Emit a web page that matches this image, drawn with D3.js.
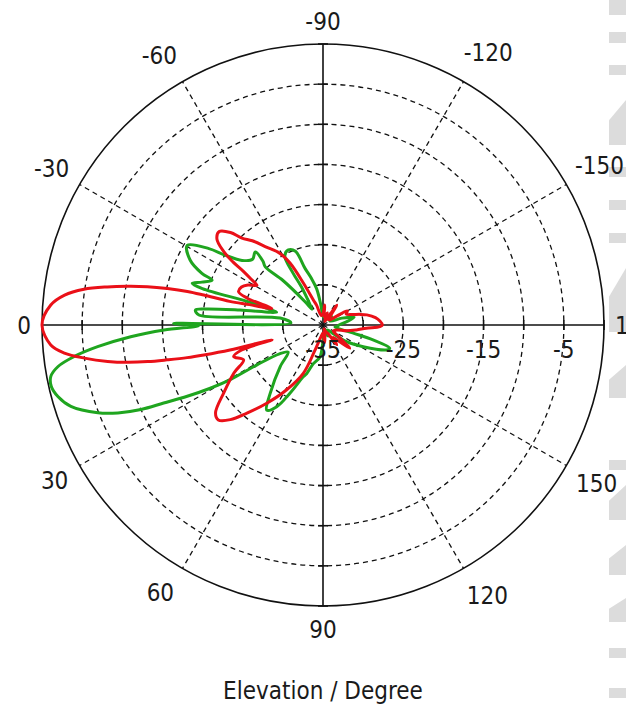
<!DOCTYPE html>
<html lang="en">
<head>
<meta charset="utf-8">
<title>Elevation pattern</title>
<style type="text/css">
body {
  margin: 0;
  background: #fff;
}
svg text {
  font-family: "DejaVu Sans Condensed", "DejaVu Sans", sans-serif;
  font-stretch: condensed;
  font-size: 24px;
  fill: #1a1a1a;
}
.ring {
  fill: none;
  stroke: #111;
  stroke-width: 1.3px;
  stroke-dasharray: 5,4;
}
.spoke {
  stroke: #111;
  stroke-width: 1.3px;
  stroke-dasharray: 5,4;
}
.axis line, .outer {
  stroke: #111;
  stroke-width: 1.6px;
  fill: none;
}
.trace {
  fill: none;
  stroke-width: 3px;
  stroke-linejoin: round;
}
</style>
</head>
<body>
<svg width="626" height="717"></svg>
<script src="https://d3js.org/d3.v7.min.js"></script>
<script>
// angle ticks (degrees), dB rings, radial tick labels
var angleTicks = [-150, -120, -90, -60, -30, 0, 30, 60, 90, 120, 150, 180];
var spokeAngles = [-150, -120, -60, -30, 30, 60, 120, 150];
var ringDb = [-30, -25, -20, -15, -10, -5, 0];
var radialLabels = [-35, -25, -15, -5];

// red trace: angle (deg) / level (dB)
var redAngle = [-180, -176, -172, -167, -164, -160, -155, -150, -146, -140, -130, -125, -120, -115, -110, -100, -95, -90, -80,
  -72, -69, -65, -62, -59, -54, -50, -47, -45, -42, -39, -36.5, -35, -34, -32.5, -31, -28, -25, -21.5,
  -19.5, -17.9, -15.5, -14.2, -14.1, -13.9, -13.2, -12.3, -11.2, -10, -8.5, -6.6, -4.2, 0,
  4.2, 6.2, 7.9, 9.6, 10.8, 11.8, 12.6, 13.5, 14.1, 15.0, 16.3, 17.1, 19.5, 23.7, 28.3, 34.4, 39.3,
  42.2, 45.6, 49.2, 54.3, 60.8, 67.8, 72, 80, 90, 95, 100, 105, 110, 120, 125, 130, 135, 139, 143, 150, 160,
  166, 171.6, 175.7, 178.3];
var redDb = [-27.6, -27.9, -28.4, -29.4, -30.2, -31.2, -31.8, -31.5, -33.4, -34.0, -33.6, -32.0, -34.3, -34.5, -33.4, -34.0, -32.5, -33.6, -33.8,
  -32.4, -31.7, -29.3, -26.3, -24.6, -23.0, -21.3, -20.2, -18.7, -17.6, -18.0, -19.6, -21.3, -23.0, -24.4, -25.4, -24.4, -23.8, -23.7,
  -25.0, -28.3, -25.5, -23.0, -19.7, -17.6, -15.1, -12.6, -10.2, -7.7, -4.9, -2.6, -1.0, 0,
  -1.0, -2.6, -5.0, -7.8, -10.2, -12.7, -15.1, -17.6, -19.7, -23.0, -28.4, -24.4, -23.2, -24.2, -22.4, -20.0, -17.7,
  -17.4, -18.5, -20.5, -23.0, -25.8, -28.5, -31.5, -33.5, -34.0, -32.8, -33.7, -34.5, -34.2, -33.8, -32.0, -33.0, -32.0, -30.6, -32.5, -33.5, -33.2,
  -32.0, -30.8, -29.6, -27.9];

// green trace: angle (deg) / level (dB)
var greenAngle = [-180, -172, -166, -160, -150, -135, -120, -105, -92, -84, -80, -76, -72.4, -69.5, -65.2,
  -61, -60, -60.5, -58, -55, -52.3, -48, -45.2, -46.7, -47.1, -43, -38.6, -35.5, -33.8, -30.4, -26, -23.1,
  -22, -19.5, -17.7, -16.8, -17.3, -16.5, -15.5, -10.2, -7.7, -6.7, -4.6, -9.2, -3.5, -0.6, 0.3,
  1.8, 3.5, 5.5, 7.2, 8.9, 10.7, 12.7, 15.1, 17.9, 21.3, 23.2, 24.9, 26.1, 27.7, 29.3, 30.5, 31.1, 33.5,
  37.9, 44.1, 52.2, 56.5, 60.5, 64.2, 69.1, 71.4, 75.8, 84.6, 90, 100, 115, 130, 140, 144.8, 151.7,
  158.6, 160.8, 163.4, 165, 170, 175];
var greenDb = [-33.0, -32.0, -31.0, -32.5, -34.0, -33.5, -34.2, -33.6, -34.0, -32.5, -30.4, -29.0, -27.6, -25.2, -24.7,
  -25.2, -27.5, -29.5, -31.8, -32.6, -31.3, -27.5, -24.8, -24.1, -22.6, -23.0, -22.1, -20.0, -17.9, -15.4, -16.6, -18.6,
  -20.1, -19.0, -17.9, -19.3, -25.3, -28.0, -29.0, -24.5, -20.2, -19.0, -19.5, -29.6, -31.0, -16.4, -19.5,
  -15.2, -11.0, -6.8, -3.8, -1.6, -0.5, -0.3, -0.8, -2.0, -4.9, -7.2, -10.0, -12.9, -15.9, -18.9, -21.6, -25.4, -28.5,
  -29.5, -27.6, -24.3, -22.3, -23.3, -25.6, -28.1, -28.6, -30.0, -31.0, -33.0, -34.0, -33.5, -34.2, -33.2, -31.4, -29.3,
  -26.5, -26.2, -28.5, -31.0, -33.5, -33.2];

// light gray marks along the right edge: [y0, y1, slant]
var edgeMarks = [[0, 15, 0], [32, 43, 0], [65, 75, 0], [100, 145, 1], [167, 177, 0], [200, 210, 0],
  [233, 243, 0], [268, 332, 1], [365, 398, 1], [460, 470, 0], [485, 520, 1], [545, 575, 1],
  [598, 622, 1], [648, 658, 0], [688, 698, 0]];

var svg = d3.select("svg"),
    cx = 323, cy = 325, R = 281;

var r = d3.scaleLinear().domain([-35, 0]).range([0, R]).clamp(true);
var rad = function(a) { return a * Math.PI / 180; };

function px(a, d) { return cx - d * Math.cos(rad(a)); }
function py(a, d) { return cy + d * Math.sin(rad(a)); }

// edge marks
svg.append("g").selectAll("path")
    .data(edgeMarks)
  .enter().append("path")
    .attr("fill", "#dcdcdc")
    .attr("d", function(m) {
      if (!m[2]) return "M609," + m[0] + "H626V" + m[1] + "H609Z";
      return "M626," + m[0] + "V" + m[1] + "H609V" + (m[0] + (m[1] - m[0]) * 0.45) + "Z";
    });

var grid = svg.append("g");

grid.selectAll("circle.ring")
    .data(ringDb.slice(0, -1))
  .enter().append("circle")
    .attr("class", "ring")
    .attr("cx", cx).attr("cy", cy)
    .attr("r", function(d) { return r(d); });

grid.selectAll("line.spoke")
    .data(spokeAngles)
  .enter().append("line")
    .attr("class", "spoke")
    .attr("x1", cx).attr("y1", cy)
    .attr("x2", function(d) { return px(d, R); })
    .attr("y2", function(d) { return py(d, R); });

grid.append("circle")
    .attr("class", "outer")
    .attr("cx", cx).attr("cy", cy).attr("r", R);

var axis = svg.append("g").attr("class", "axis");
axis.append("line").attr("x1", cx - R).attr("x2", cx + R).attr("y1", cy).attr("y2", cy);
axis.append("line").attr("x1", cx).attr("x2", cx).attr("y1", cy - R).attr("y2", cy + R);

ringDb.forEach(function(d) {
  var k = r(d);
  [-1, 1].forEach(function(s) {
    axis.append("line").attr("x1", cx + s * k).attr("x2", cx + s * k).attr("y1", cy - 5).attr("y2", cy + 5);
    axis.append("line").attr("y1", cy + s * k).attr("y2", cy + s * k).attr("x1", cx - 5).attr("x2", cx + 5);
  });
});

// traces
var line = d3.lineRadial()
    .angle(function(d) { return -rad(d[0] + 90); })
    .radius(function(d) { return r(d[1]); })
    .curve(d3.curveCatmullRomClosed.alpha(0.5));

var plot = svg.append("g").attr("transform", "translate(" + cx + "," + cy + ")");
plot.append("path")
    .datum(d3.zip(greenAngle, greenDb))
    .attr("class", "trace")
    .attr("stroke", "#1fa51f")
    .attr("d", line);
plot.append("path")
    .datum(d3.zip(redAngle, redDb))
    .attr("class", "trace")
    .attr("stroke", "#ea1018")
    .attr("d", line);

// radial labels
svg.append("g").selectAll("text")
    .data(radialLabels)
  .enter().append("text")
    .attr("x", function(d) { return cx + r(d); })
    .attr("y", cy + 33)
    .attr("text-anchor", "middle")
    .text(function(d) { return d; });

// angle labels
svg.append("g").selectAll("text")
    .data(angleTicks)
  .enter().append("text")
    .attr("text-anchor", "middle")
    .attr("dy", "0.36em")
    .each(function(d) {
      var t = d3.select(this).text(d),
          w = this.getComputedTextLength() / 2,
          a = rad(d),
          c = Math.cos(a), s = Math.abs(Math.sin(a)),
          off = R + 11 + w * Math.abs(c) + 12 * s,
          nudge = (s > 0.8 && Math.abs(c) > 0.1) ? 8 : 0;
      t.attr("x", px(d, off) - nudge * Math.sign(c)).attr("y", py(d, off));
    });

svg.append("text")
    .attr("x", cx)
    .attr("y", 690)
    .attr("text-anchor", "middle")
    .attr("dy", "0.36em")
    .text("Elevation / Degree");
</script>
</body>
</html>
